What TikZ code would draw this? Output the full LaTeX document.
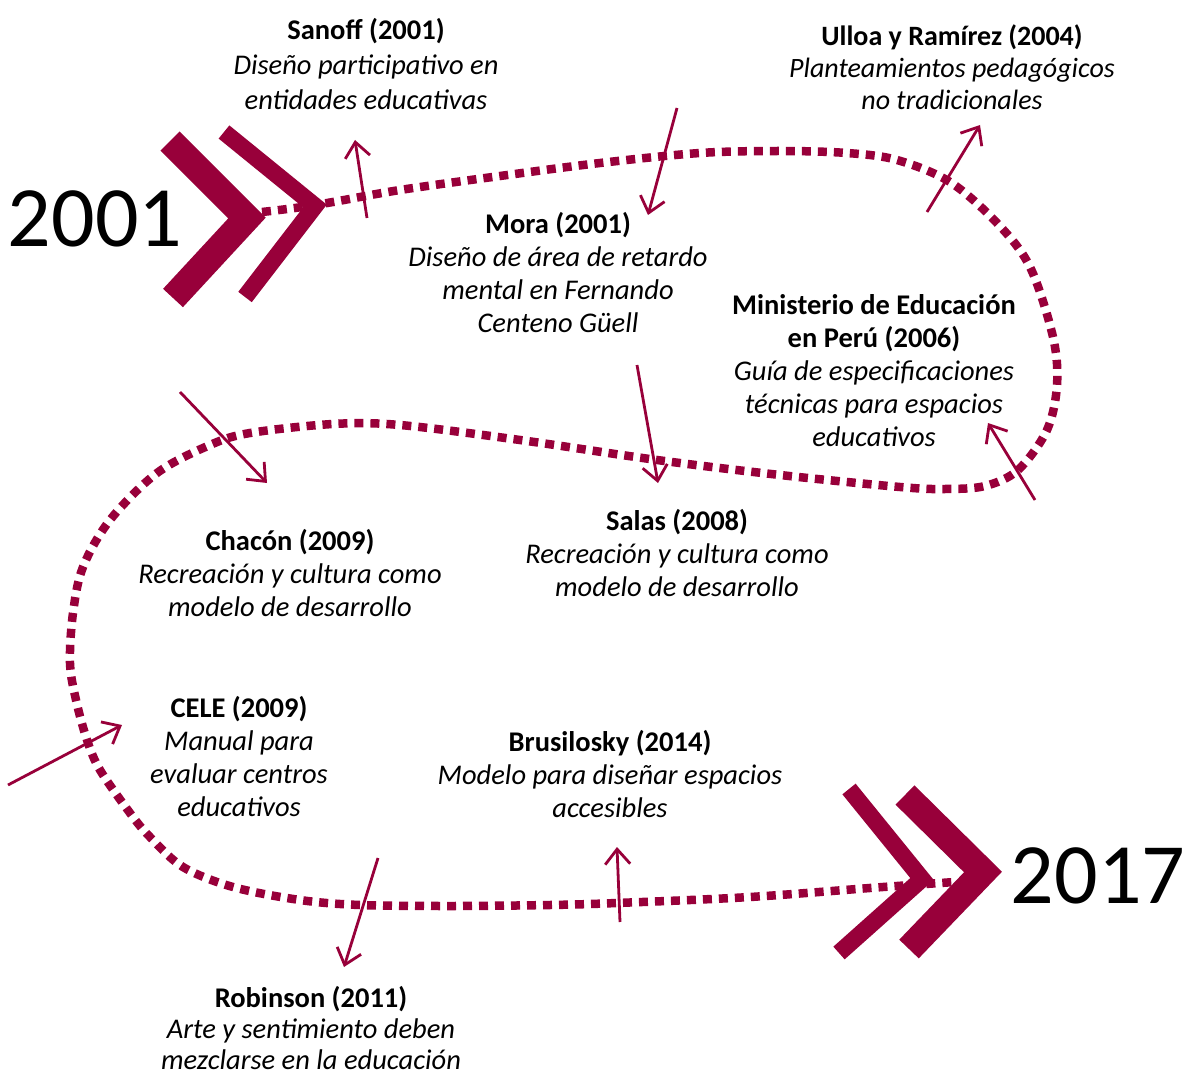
\documentclass[tikz,border=0pt]{standalone}
\usepackage{fontspec}
\setmainfont{Carlito}
\usetikzlibrary{arrows.meta}
\definecolor{wine}{RGB}{152,0,58}
\begin{document}
\begin{tikzpicture}[x=1pt,y=-1pt,
  chevthick/.style={draw=wine,line width=27pt,line join=miter,miter limit=10},
  chevthin/.style={draw=wine,line width=17pt,line join=miter,miter limit=10},
  trail/.style={draw=wine,line width=8.5pt,dash pattern=on 9pt off 7pt},
  pointer/.style={draw=wine,line width=2.8pt,-{Straight Barb[length=15pt,width=25pt]}},
  entry/.style={align=center,font=\fontsize{28.5}{33}\selectfont,inner sep=0pt},
  year/.style={font=\fontsize{86}{90}\selectfont,inner sep=0pt}]
\useasboundingbox (0,0) rectangle (1184,1078);
\fill[white] (0,0) rectangle (1184,1078);

% start and end chevrons (the ones under the trail)
\draw[chevthick] (170,141) -- (247,218) -- (173,298);
\draw[chevthin] (849,789) -- (922,879) -- (839,953);

% dotted timeline
\draw[trail] plot[smooth,tension=0.55] coordinates {
  (262,212) (295,208) (333,202) (400,190) (500,176) (600,163) (700,153)
  (780,151) (847,153) (897,160) (950,182) (997,223) (1030,267) (1053,337)
  (1057,385) (1047,430) (1018,470) (985,486) (945,489) (900,487) (780,475)
  (657,460) (520,440) (400,425) (333,424) (250,433) (210,445) (157,473)
  (110,520) (83,567) (73,613) (70,663) (76,700) (87,740) (100,770) (130,813)
  (150,837) (183,867) (233,887) (300,900) (360,905) (450,906) (550,905)
  (617,903) (750,897) (883,887) (955,882)};

% chevrons on top of the trail
\draw[chevthin] (224,132) -- (315,206) -- (245,297);
\draw[chevthick] (905,795) -- (983,872) -- (909,949);

% years
\node[year] (y2001) at (95,219) {2001};
\node[year] (y2017) at (1098,876) {2017};

% entries
\node[entry,font=\fontsize{28.5}{35}\selectfont] (sanoff) at (366,64) {\textbf{Sanoff (2001)}\\\textit{Diseño participativo en}\\\textit{entidades educativas}};
\node[entry,font=\fontsize{28}{32}\selectfont] (ulloa) at (952,67) {\textbf{Ulloa y Ramírez (2004)}\\\textit{Planteamientos pedagógicos}\\\textit{no tradicionales}};
\node[entry] (mora) at (558,273) {\textbf{Mora (2001)}\\\textit{Diseño de área de retardo}\\\textit{mental en Fernando}\\\textit{Centeno Güell}};
\node[entry] (minedu) at (874,371) {\textbf{Ministerio de Educación}\\\textbf{en Perú (2006)}\\\textit{Guía de especificaciones}\\\textit{técnicas para espacios}\\\textit{educativos}};
\node[entry] (salas) at (677,553) {\textbf{Salas (2008)}\\\textit{Recreación y cultura como}\\\textit{modelo de desarrollo}};
\node[entry] (chacon) at (290,573) {\textbf{Chacón (2009)}\\\textit{Recreación y cultura como}\\\textit{modelo de desarrollo}};
\node[entry] (cele) at (239,757) {\textbf{CELE (2009)}\\\textit{Manual para}\\\textit{evaluar centros}\\\textit{educativos}};
\node[entry] (brusi) at (610,774) {\textbf{Brusilosky (2014)}\\\textit{Modelo para diseñar espacios}\\\textit{accesibles}};
\node[entry,font=\fontsize{28.5}{31}\selectfont] (robinson) at (311,1028) {\textbf{Robinson (2011)}\\\textit{Arte y sentimiento deben}\\\textit{mezclarse en la educación}};

% arrow end points
\coordinate (aSanoffT) at (367,218);  \coordinate (aSanoffH) at (355,140);
\coordinate (aMoraT) at (677,108);    \coordinate (aMoraH) at (648,215);
\coordinate (aUlloaT) at (927,212);   \coordinate (aUlloaH) at (980,125);
\coordinate (aMinT) at (1035,500);    \coordinate (aMinH) at (988,423);
\coordinate (aSalasT) at (637,365);   \coordinate (aSalasH) at (658,483);
\coordinate (aChaconT) at (180,392);  \coordinate (aChaconH) at (267,483);
\coordinate (aCeleT) at (8,785);      \coordinate (aCeleH) at (122,725);
\coordinate (aRobT) at (378,858);     \coordinate (aRobH) at (344,967);
\coordinate (aBrusiT) at (620,922);   \coordinate (aBrusiH) at (617,847);

\draw[pointer] (aSanoffT) -- (aSanoffH);
\draw[pointer] (aMoraT) -- (aMoraH);
\draw[pointer] (aUlloaT) -- (aUlloaH);
\draw[pointer] (aMinT) -- (aMinH);
\draw[pointer] (aSalasT) -- (aSalasH);
\draw[pointer] (aChaconT) -- (aChaconH);
\draw[pointer] (aCeleT) -- (aCeleH);
\draw[pointer] (aRobT) -- (aRobH);
\draw[pointer] (aBrusiT) -- (aBrusiH);
\end{tikzpicture}
\end{document}
